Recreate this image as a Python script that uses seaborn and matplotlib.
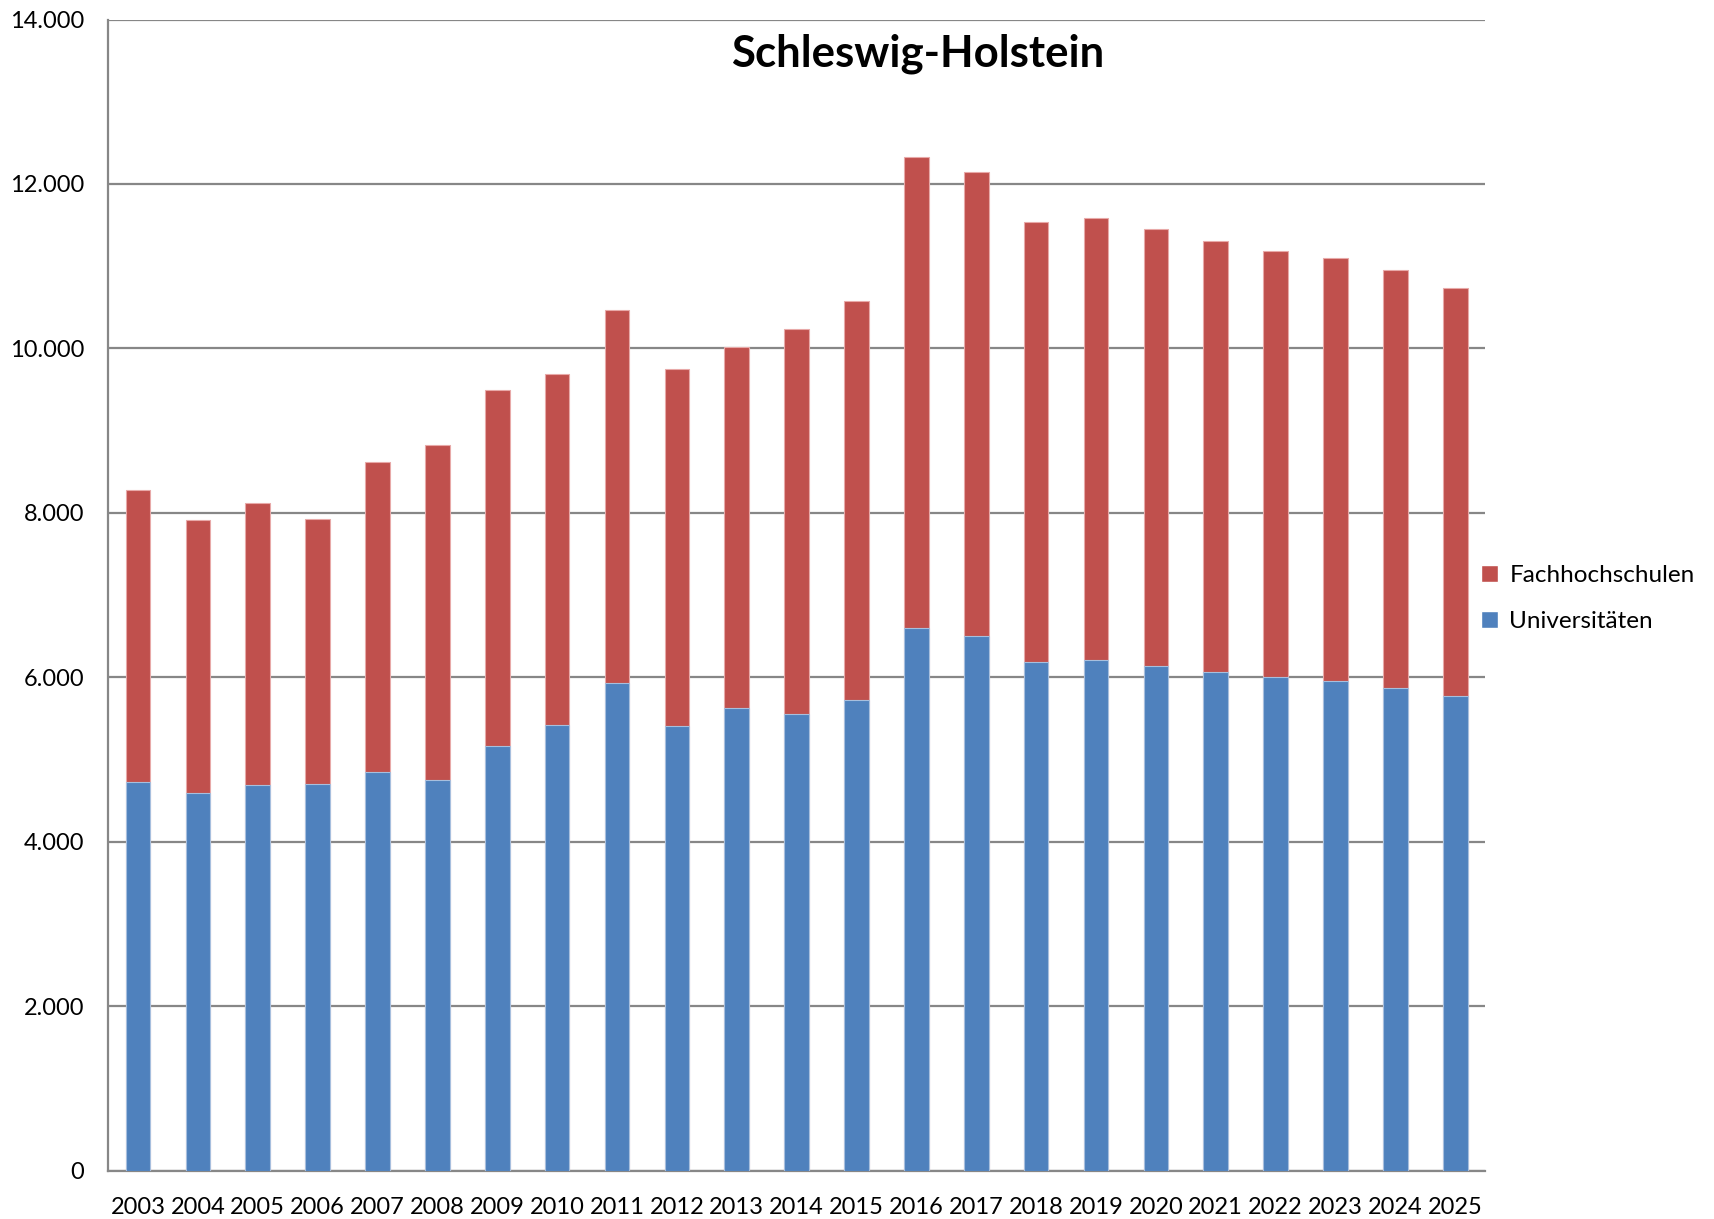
"""Stacked bar chart: Studienanfänger Schleswig-Holstein."""

import matplotlib.pyplot as plt
import numpy as np
import seaborn as sns
from matplotlib.patches import Patch
from matplotlib.ticker import FuncFormatter, MultipleLocator

years = [str(y) for y in range(2003, 2026)]
universitaeten = [4723, 4589, 4689, 4709, 4848, 4752, 5165, 5424, 5933, 5413, 5628, 5555,
                  5725, 6596, 6500, 6192, 6216, 6139, 6067, 6000, 5962, 5875, 5769]
fachhochschulen = [3551, 3320, 3431, 3214, 3772, 4070, 4330, 4264, 4529, 4342, 4392, 4680,
                   4852, 5736, 5649, 5351, 5371, 5308, 5236, 5183, 5134, 5077, 4962]

BLUE = "#4F81BD"
RED = "#C0504D"
GRID = "#878787"

sns.set_style("white")
plt.rcParams["font.family"] = ["Lato", "DejaVu Sans"]
plt.rcParams["text.color"] = "black"
plt.rcParams["xtick.labelcolor"] = "black"
plt.rcParams["ytick.labelcolor"] = "black"

fig = plt.figure(figsize=(17.15, 12.19), dpi=100)
ax = fig.add_axes([0.063, 0.0395, 0.803, 0.9445])

totals = np.array(universitaeten) + np.array(fachhochschulen)
sns.barplot(x=years, y=totals, color=RED, saturation=1, width=0.41,
            edgecolor="#E8A9A8", linewidth=0.8, ax=ax, zorder=3)
sns.barplot(x=years, y=universitaeten, color=BLUE, saturation=1, width=0.41,
            edgecolor="#A7BFDE", linewidth=0.8, ax=ax, zorder=3)

ax.set_ylim(0, 14000)
ax.set_xlim(-0.5, len(years) - 0.5)
ax.yaxis.set_major_locator(MultipleLocator(2000))
ax.yaxis.set_major_formatter(FuncFormatter(lambda v, _: f"{int(v):,}".replace(",", ".")))
ax.grid(axis="y", color=GRID, linewidth=1.6, zorder=0)
ax.set_axisbelow(True)

for side in ["top", "right"]:
    ax.spines[side].set_visible(False)
for side in ["left", "bottom"]:
    ax.spines[side].set_color(GRID)
    ax.spines[side].set_linewidth(1.6)

# category boundary ticks like Excel
ax.set_xticks(np.arange(-0.5, len(years)), minor=True)
ax.tick_params(axis="x", which="minor", length=9, width=1.4, color=GRID)
ax.tick_params(axis="x", which="major", length=0, pad=19, labelsize=17, labelcolor="black")
ax.tick_params(axis="y", which="major", length=8, width=1.4, color=GRID, labelsize=17, pad=9,
               labelcolor="black")
ax.set_xlabel("")
ax.set_ylabel("")

ax.text(0.588, 0.97, "Schleswig-Holstein", transform=ax.transAxes, ha="center",
        va="center", fontsize=31.5, fontweight="bold", color="black")

handles = [Patch(facecolor=RED, label="Fachhochschulen"),
           Patch(facecolor=BLUE, label="Universitäten")]
fig.legend(handles=handles, loc="center left", bbox_to_anchor=(0.851, 0.509), frameon=False,
           fontsize=17.5, handlelength=0.7, handleheight=0.7, handletextpad=0.45,
           labelspacing=1.05, labelcolor="black")

fig.savefig("out.png", dpi=100)
